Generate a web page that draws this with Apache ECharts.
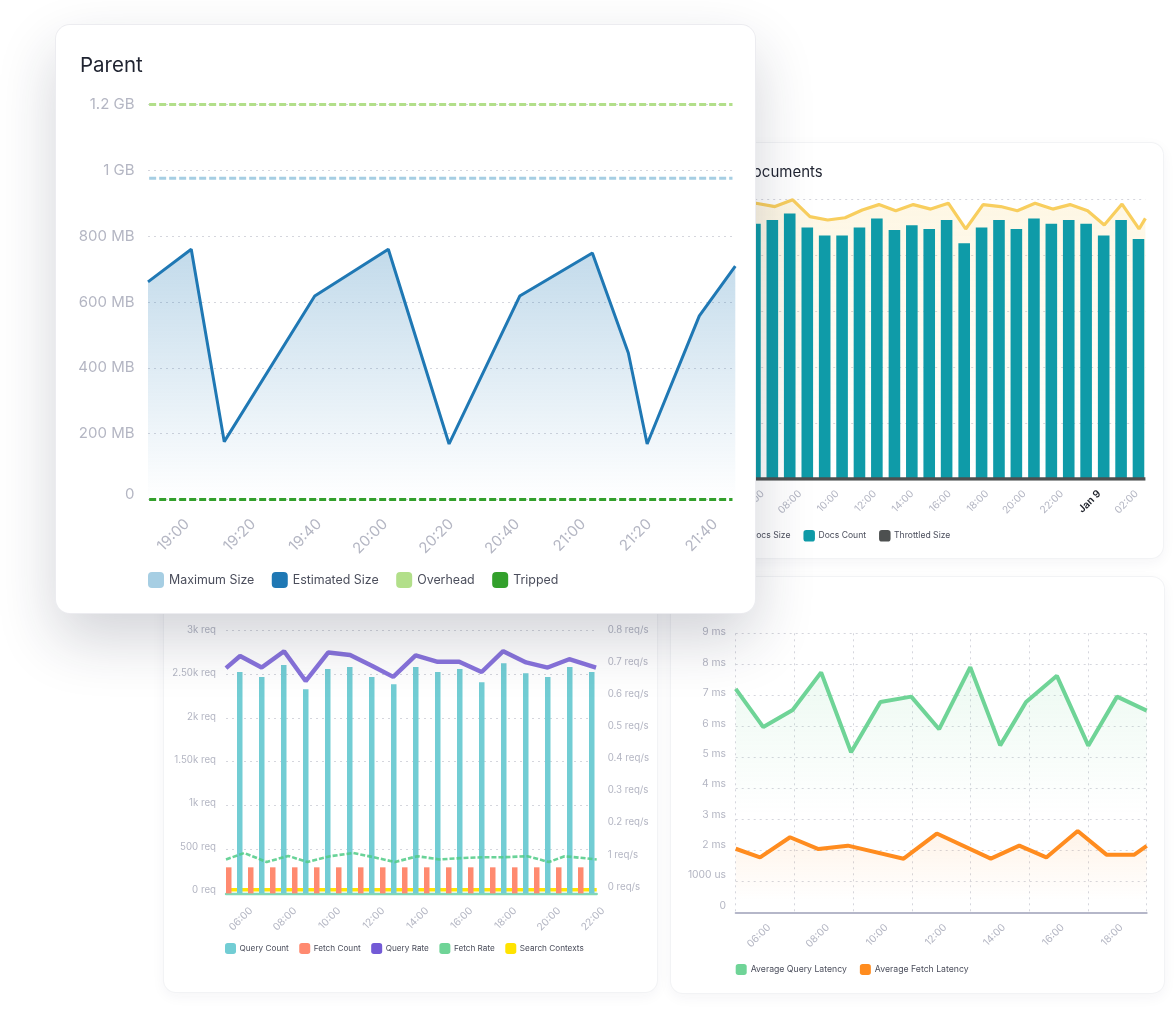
<!DOCTYPE html>
<html>
<head>
<meta charset="utf-8">
<title>Elasticsearch metrics</title>
<script src="https://cdn.jsdelivr.net/npm/echarts@6/dist/echarts.min.js"></script>
<style>
  html, body { margin: 0; padding: 0; background: #fff; width: 1176px; height: 1016px; overflow: hidden; }
  .card { position: absolute; background: #fff; border-radius: 12px; overflow: hidden; box-sizing: border-box;
          box-shadow: 0 0 0 1px #f2f3f5, 0 4px 14px rgba(40,45,70,.05); }
  .card .plot { position: absolute; width: 1176px; height: 1016px; }
  #parentCard { left: 56px; top: 25px; width: 699px; height: 588px; z-index: 5; border-radius: 14px;
                box-shadow: 0 0 0 1px #ececf0, 0 26px 60px rgba(30,34,60,.2); }
  #docsCard { left: 717px; top: 143px; width: 446px; height: 415px; z-index: 1; }
  #requestsCard { left: 164px; top: 577px; width: 493px; height: 415px; z-index: 2; }
  #latencyCard { left: 671px; top: 577px; width: 493px; height: 416px; z-index: 2; }
</style>
</head>
<body>
<div class="card" id="docsCard"><div class="plot" style="left:-717px;top:-143px" id="docsChart"></div></div>
<div class="card" id="requestsCard"><div class="plot" style="left:-164px;top:-577px" id="requestsChart"></div></div>
<div class="card" id="latencyCard"><div class="plot" style="left:-671px;top:-577px" id="latencyChart"></div></div>
<div class="card" id="parentCard"><div class="plot" style="left:-56px;top:-25px" id="parentChart"></div></div>

<script>
// Parent: x is minutes of the day, y is MB
var parentMinutes = [1128.15, 1141.25, 1151.25, 1178.65, 1200.95, 1219.35, 1240.75, 1262.75, 1273.65, 1279.35, 1295.15, 1306.05];
var estimatedSize = [661, 760, 176, 618, 760, 169, 618, 749, 445, 169, 558, 709];
var limitMinutes = [1128.5, 1305.2];
var maximumSize = [976, 976];
var overhead = [1200, 1200];
var tripped = [0, 0];
var parentTicks = [1140, 1160, 1180, 1200, 1220, 1240, 1260, 1280, 1300];
var parentTickLabels = ['19:00', '19:20', '19:40', '20:00', '20:20', '20:40', '21:00', '21:20', '21:40'];
var sizeLabels = ['0', '200 MB', '400 MB', '600 MB', '800 MB', '1 GB', '1.2 GB'];

// Documents: x is hours from midnight Jan 8, y is on a 0-1000 scale (its labels are hidden in the picture)
var docsBarHours = [5.59, 6.52, 7.45, 8.39, 9.32, 10.25, 11.18, 12.11, 13.05, 13.98, 14.91, 15.84, 16.78, 17.71, 18.64, 19.57, 20.51, 21.44, 22.37, 23.3, 24.24, 25.17, 26.1];
var docsCount = [913, 926, 949, 899, 871, 871, 899, 931, 890, 907, 894, 926, 843, 899, 926, 894, 931, 913, 926, 913, 871, 926, 858];
var docsLineHours = [4.8, 5.65, 6.66, 7.61, 8.53, 9.48, 10.41, 11.33, 12.22, 13.12, 14.06, 14.99, 15.93, 16.86, 17.79, 18.73, 19.62, 20.57, 21.51, 22.44, 23.38, 24.27, 25.22, 26.13, 26.47];
var docsSize = [975, 986, 974, 998, 938, 926, 934, 962, 981, 959, 981, 965, 986, 894, 981, 974, 959, 986, 965, 981, 959, 908, 983, 894, 932];
var throttledHours = [4, 26.47];
var throttledSize = [0, 0];
var docsTicks = [6, 8, 10, 12, 14, 16, 18, 20, 22, 24, 26];
var docsTickLabels = ['06:00', '08:00', '10:00', '12:00', '14:00', '16:00', '18:00', '20:00', '22:00', 'Jan 9', '02:00'];

// Requests: left axis is req, right axis is req/s
var requestBarHours = [5.375, 6.375, 7.375, 8.375, 9.375, 10.375, 11.375, 12.375, 13.375, 14.375, 15.375, 16.375, 17.375, 18.375, 19.375, 20.375, 21.375];
var queryCount = [2522, 2465, 2601, 2324, 2556, 2579, 2465, 2381, 2579, 2522, 2556, 2404, 2620, 2506, 2465, 2579, 2522];
var fetchCount = [297, 297, 297, 297, 297, 297, 297, 297, 297, 297, 297, 297, 297, 297, 297, 297, 297];
var rateHours = [5, 5.64, 6.62, 7.64, 8.62, 9.65, 10.64, 11.65, 12.6, 13.62, 14.62, 15.6, 16.62, 17.6, 18.64, 19.62, 20.6, 21.82];
var queryRate = [0.681, 0.719, 0.683, 0.734, 0.641, 0.73, 0.722, 0.688, 0.654, 0.721, 0.701, 0.701, 0.669, 0.734, 0.699, 0.683, 0.709, 0.683];
var fetchRateHours = [5, 5.83, 6.85, 7.83, 8.7, 9.73, 10.79, 11.7, 12.68, 13.7, 14.7, 15.68, 16.7, 17.68, 18.7, 19.68, 20.39, 21.85];
var fetchRate = [0.085, 0.105, 0.077, 0.096, 0.077, 0.095, 0.105, 0.092, 0.077, 0.095, 0.085, 0.089, 0.092, 0.092, 0.095, 0.077, 0.095, 0.085];
var contextHours = [5, 21.85];
var searchContexts = [42, 42];
var requestTicks = [6, 8, 10, 12, 14, 16, 18, 20, 22];
var requestTickLabels = ['06:00', '08:00', '10:00', '12:00', '14:00', '16:00', '18:00', '20:00', '22:00'];
var reqLabels = ['0 req', '500 req', '1k req', '1.50k req', '2k req', '2.50k req', '3k req'];
var rateLabels = ['0 req/s', '1 req/s', '0.2 req/s', '0.3 req/s', '0.4 req/s', '0.5 req/s', '0.6 req/s', '0.7 req/s', '0.8 req/s'];

// Latency: x is hours after 05:00, y is ms
var queryLatencyHours = [0, 0.94, 1.94, 2.91, 3.93, 4.93, 5.98, 6.93, 7.99, 9.01, 9.89, 10.94, 12.01, 12.99, 14];
var queryLatency = [7.21, 5.98, 6.53, 7.74, 5.17, 6.79, 6.96, 5.91, 7.91, 5.39, 6.79, 7.63, 5.38, 6.96, 6.51];
var fetchLatencyHours = [0, 0.83, 1.85, 2.82, 3.82, 5.72, 6.85, 8.69, 9.66, 10.58, 11.65, 12.63, 13.58, 14];
var fetchLatency = [2.06, 1.78, 2.43, 2.05, 2.16, 1.74, 2.55, 1.74, 2.16, 1.78, 2.63, 1.87, 1.87, 2.15];
var latencyTicks = [1, 3, 5, 7, 9, 11, 13];
var latencyTickLabels = ['06:00', '08:00', '10:00', '12:00', '14:00', '16:00', '18:00'];
var latencyLabels = ['0', '1000 us', '2 ms', '3 ms', '4 ms', '5 ms', '6 ms', '7 ms', '8 ms', '9 ms'];

var FONT = 'Inter, "Noto Sans", sans-serif';
var LABEL = '#b4b6c3';
var dotted = { show: true, lineStyle: { color: '#d5d6dd', width: 1, type: [2, 4] } };

function pairs(xs, ys) {
    return xs.map(function (x, i) { return [x, ys[i]]; });
}

// all charts use page coordinates, the plot div is shifted inside its card
function box(left, top, right, bottom) {
    return { left: left, top: top, width: right - left, height: bottom - top };
}

function fade(color, from, end) {
    return {
        opacity: 1,
        color: new echarts.graphic.LinearGradient(0, 0, 0, 1, [
            { offset: 0, color: 'rgba(' + color + ',' + from + ')' },
            { offset: end || 1, color: 'rgba(' + color + ',0)' }
        ])
    };
}

function line(name, data, color, width, extra) {
    var s = {
        name: name, type: 'line', data: data, symbol: 'none', z: 4,
        itemStyle: { color: color },
        lineStyle: { color: color, width: width }
    };
    for (var k in extra) s[k] = extra[k];
    return s;
}

function legend(left, top, size, gap, fontSize, textGap, names) {
    return {
        left: left, top: top, padding: 0, icon: 'roundRect', itemWidth: size, itemHeight: size, itemGap: gap,
        itemStyle: { borderWidth: 0 }, selectedMode: false, data: names,
        textStyle: { fontFamily: FONT, fontSize: fontSize, color: '#4b4e5c', padding: [0, 0, 0, textGap] }
    };
}

function timeAxis(min, max, ticks, labels, fontSize, margin, extra) {
    var a = {
        type: 'value', min: min, max: max,
        axisLine: { show: false }, axisTick: { show: false }, splitLine: { show: false },
        axisLabel: {
            customValues: ticks, rotate: 45, margin: margin, hideOverlap: false,
            fontFamily: FONT, fontSize: fontSize, color: LABEL,
            formatter: function (v) {
                var text = labels[ticks.indexOf(v)];
                return text === 'Jan 9' ? '{strong|' + text + '}' : text;
            },
            rich: { strong: { fontFamily: FONT, fontSize: fontSize, fontWeight: 600, color: '#1c1f28' } }
        }
    };
    for (var k in extra) a[k] = extra[k];
    return a;
}

function hiddenX(grid, min, max) {
    return { type: 'value', gridIndex: grid, min: min, max: max, show: false };
}

function labelY(grid, max, interval, labels, fontSize, margin, position) {
    return {
        type: 'value', gridIndex: grid, min: 0, max: max, interval: interval, position: position || 'left',
        axisLine: { show: false }, axisTick: { show: false }, splitLine: { show: false },
        axisLabel: {
            margin: margin, fontFamily: FONT, fontSize: fontSize, color: LABEL, showMinLabel: true, showMaxLabel: true,
            formatter: function (v, i) { return labels[Math.round(v / interval)]; }
        }
    };
}

// Parent
var parentChart = echarts.init(document.getElementById('parentChart'));
parentChart.setOption({
    animation: false,
    title: { text: 'Parent', left: 80, top: 55, padding: 0, textStyle: { fontFamily: FONT, fontSize: 20.5, fontWeight: 400, color: '#1f2330' } },
    legend: legend(148, 572, 16, 17.5, 12.4, 0, ['Maximum Size', 'Estimated Size', 'Overhead', 'Tripped']),
    grid: box(148, 104.4, 735.3, 499.6),
    xAxis: timeAxis(1128.15, 1306.05, parentTicks, parentTickLabels, 15, 22),
    yAxis: {
        type: 'value', min: 0, max: 1200, interval: 200,
        axisLine: { show: false }, axisTick: { show: false }, splitLine: dotted,
        axisLabel: {
            margin: 13.5, fontFamily: FONT, fontSize: 15, color: LABEL, showMinLabel: true, showMaxLabel: true,
            formatter: function (v) { return v === 0 ? '{lift|0}' : sizeLabels[v / 200]; },
            rich: { lift: { fontFamily: FONT, fontSize: 15, color: LABEL, padding: [0, 0, 10, 0] } }
        }
    },
    series: [
        line('Maximum Size', pairs(limitMinutes, maximumSize), '#a6cee3', 3, { lineStyle: { color: '#a6cee3', width: 3, type: [7, 3] } }),
        line('Estimated Size', pairs(parentMinutes, estimatedSize), '#1f78b4', 3, { areaStyle: fade('31,120,180', 0.27) }),
        line('Overhead', pairs(limitMinutes, overhead), '#b2df8a', 3, { lineStyle: { color: '#b2df8a', width: 3, type: [7, 3] } }),
        line('Tripped', pairs(limitMinutes, tripped), '#33a02c', 3, { lineStyle: { color: '#33a02c', width: 3, type: [7, 3] } })
    ]
});

// Documents
var docsChart = echarts.init(document.getElementById('docsChart'));
docsChart.setOption({
    animation: false,
    title: { text: 'Documents', left: 742, top: 165, padding: 0, textStyle: { fontFamily: FONT, fontSize: 15, fontWeight: 400, color: '#1f2330' } },
    legend: legend(735, 530, 11.5, 13, 8.6, -1.5, ['Docs Size', 'Docs Count', 'Throttled Size']),
    grid: box(725.2, 199.3, 1145.4, 479),
    xAxis: timeAxis(4, 26.47, docsTicks, docsTickLabels, 10.2, 13),
    yAxis: {
        type: 'value', min: 0, max: 1000, interval: 200,
        axisLine: { show: false }, axisTick: { show: false }, axisLabel: { show: false }, splitLine: dotted
    },
    series: [
        line('Docs Size', pairs(docsLineHours, docsSize), '#f8ce5e', 3.2, { z: 2, areaStyle: fade('248,206,94', 0.17) }),
        {
            name: 'Docs Count', type: 'bar', barWidth: 11.6, z: 3,
            itemStyle: { color: '#0f9ba8' },
            data: pairs(docsBarHours, docsCount)
        },
        line('Throttled Size', pairs(throttledHours, throttledSize), '#4d5050', 3.4)
    ]
});

// Requests
var requestsChart = echarts.init(document.getElementById('requestsChart'));
requestsChart.setOption({
    animation: false,
    legend: legend(225, 943, 11, 10.5, 8.2, -1.5, ['Query Count', 'Fetch Count', 'Query Rate', 'Fetch Rate', 'Search Contexts']),
    // bars, rates and the printed labels each sit on their own grid, the picture's ticks do not line up
    grid: [box(226, 630, 596.7, 893.4), box(226, 630, 596.7, 886.7), box(229, 630, 603, 890)],
    xAxis: [
        {
            type: 'value', gridIndex: 0, min: 5, max: 21.85,
            axisLine: { show: true, lineStyle: { color: '#82d8b4', width: 2.4 } },
            axisTick: { show: false }, axisLabel: { show: false }, splitLine: { show: false }
        },
        hiddenX(1, 5, 21.85),
        timeAxis(5, 22, requestTicks, requestTickLabels, 10.2, 19, { gridIndex: 2 })
    ],
    yAxis: [
        {
            type: 'value', gridIndex: 0, min: 0, max: 3000, interval: 500,
            axisLine: { show: false }, axisTick: { show: false }, axisLabel: { show: false }, splitLine: dotted
        },
        labelY(1, 0.8, 0.1, rateLabels, 9.7, 11, 'right'),
        labelY(2, 3000, 500, reqLabels, 9.7, 13)
    ],
    series: [
        line('Search Contexts', pairs(contextHours, searchContexts), '#ffe300', 3.4, { z: 1 }),
        {
            name: 'Fetch Count', type: 'bar', barWidth: 5.5, barGap: '100%', z: 2,
            itemStyle: { color: '#ff8a70' },
            data: pairs(requestBarHours, fetchCount)
        },
        {
            name: 'Query Count', type: 'bar', barWidth: 5.5, barGap: '100%', z: 2,
            itemStyle: { color: '#72cdd4' },
            data: pairs(requestBarHours, queryCount)
        },
        line('Query Rate', pairs(rateHours, queryRate), '#735ad6', 4.4, {
            xAxisIndex: 1, yAxisIndex: 1,
            lineStyle: { color: '#735ad6', width: 4.4, opacity: 0.85 }
        }),
        line('Fetch Rate', pairs(fetchRateHours, fetchRate), '#6fd497', 2.6, {
            xAxisIndex: 1, yAxisIndex: 1,
            lineStyle: { color: '#4fcb86', width: 2.6, type: [5, 2], opacity: 0.85 }
        })
    ]
});

// Latency
var latencyChart = echarts.init(document.getElementById('latencyChart'));
latencyChart.setOption({
    animation: false,
    legend: legend(735.7, 964, 11, 13, 8.7, -1, ['Average Query Latency', 'Average Fetch Latency']),
    grid: [box(735.7, 633.3, 1146.7, 912.7), box(739.7, 632.3, 1150.7, 905.7)],
    xAxis: [
        {
            type: 'value', gridIndex: 0, min: 0, max: 14, interval: 2,
            axisLine: { show: true, lineStyle: { color: '#b5b7c9', width: 2 } },
            axisTick: { show: false }, axisLabel: { show: false }, splitLine: dotted
        },
        timeAxis(0, 14, latencyTicks, latencyTickLabels, 10.2, 20, { gridIndex: 1 })
    ],
    yAxis: [
        {
            type: 'value', gridIndex: 0, min: 0, max: 9, interval: 1,
            axisLine: { show: false }, axisTick: { show: false }, axisLabel: { show: false }, splitLine: dotted
        },
        labelY(1, 9, 1, latencyLabels, 10.3, 13.7)
    ],
    series: [
        line('Average Query Latency', pairs(queryLatencyHours, queryLatency), '#6fd497', 4, { areaStyle: fade('111,212,151', 0.13, 0.6) }),
        line('Average Fetch Latency', pairs(fetchLatencyHours, fetchLatency), '#ff8c1f', 4, { areaStyle: fade('255,140,31', 0.1, 0.85) })
    ]
});
</script>
</body>
</html>
